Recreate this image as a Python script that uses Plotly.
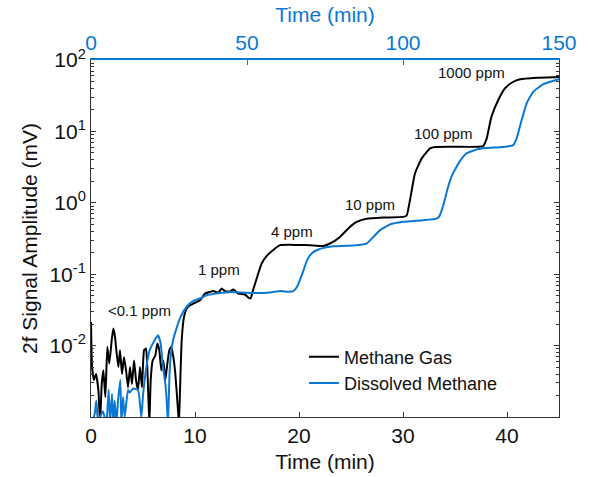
import plotly.graph_objects as go

# Methane gas signal, time on the bottom axis (min)
gas_time = [0.0, 0.1, 0.29, 0.48, 0.71, 0.87, 1.03, 1.19, 1.38, 1.57, 1.76, 1.99, 2.15, 2.31,
            2.47, 2.63, 2.79, 2.98, 3.17, 3.37, 3.56, 3.75, 3.94, 4.14, 4.33, 4.52, 4.71, 4.90,
            5.10, 5.29, 5.45, 5.61, 5.74, 5.93, 6.19, 6.38, 6.57, 6.76, 6.96, 7.15, 7.34, 7.53,
            7.72, 7.92, 8.11, 8.30, 8.46, 8.56, 8.72, 8.94, 9.20, 9.52, 9.84, 10.48, 10.96,
            11.44, 11.76, 12.24, 12.56, 12.88, 13.36, 13.68, 14.16, 14.8, 15.13, 15.35, 15.54,
            15.93, 16.41, 16.96, 17.5, 18.17, 19.1, 20.0, 21.06, 22.34, 22.98, 23.94, 24.9,
            25.55, 26.5, 28.1, 30.03, 30.35, 30.67, 31.15, 31.8, 32.6, 33.08, 34.8, 37.7,
            38.05, 38.5, 39.16, 39.8, 40.45, 41.25, 42.85, 45.0]
gas_signal = [0.0214, 0.0050, 0.0033, 0.0040, 0.0024, 0.0008, 0.0029, 0.0045, 0.0019, 0.0096,
              0.0056, 0.0119, 0.0173, 0.0132, 0.0077, 0.0050, 0.0086, 0.0040, 0.0069, 0.0045,
              0.0026, 0.0050, 0.0029, 0.0062, 0.0033, 0.0024, 0.0050, 0.0026, 0.0086, 0.0091,
              0.0036, 0.0008, 0.0033, 0.0062, 0.0073, 0.0107, 0.0086, 0.0045, 0.0062, 0.0033,
              0.0056, 0.0086, 0.0096, 0.0069, 0.0040, 0.0017, 0.0008, 0.0024, 0.0119, 0.0252,
              0.033, 0.0367, 0.0388, 0.0432, 0.0536, 0.0565, 0.058, 0.055, 0.063, 0.058, 0.057,
              0.061, 0.0536, 0.052, 0.047, 0.046, 0.057, 0.087, 0.141, 0.185, 0.217, 0.255,
              0.258, 0.256, 0.255, 0.249, 0.269, 0.333, 0.46, 0.54, 0.596, 0.62, 0.635, 0.66,
              1.09, 2.58, 4.19, 5.78, 6.05, 6.1, 6.22, 7.98, 16.0, 27.5, 40.0, 48.0, 53.6,
              56.5, 58.0]

# Dissolved methane signal, time on the top axis (min)
dissolved_time = [0.0, 1.17, 1.7, 2.23, 3.83, 4.9, 5.67, 6.1, 6.73, 7.17, 7.6, 8.13, 8.67, 9.4,
                  9.73, 10.27, 10.8, 11.87, 12.4, 13.47, 15.07, 16.13, 16.67, 17.73, 18.8,
                  20.4, 21.47, 22.33, 23.07, 23.6, 24.13, 24.67, 25.17, 25.67, 26.33, 27.33,
                  28.67, 30.67, 32.67, 35.0, 37.0, 40.67, 44.67, 50.0, 55.33, 58.0, 60.67,
                  63.33, 64.83, 66.0, 67.67, 69.33, 71.0, 72.67, 74.33, 77.67, 81.67, 85.17,
                  88.33, 90.5, 92.67, 95.83, 100.1, 106.5, 110.8, 111.67, 113.0, 114.33,
                  115.67, 117.0, 118.33, 120.33, 123.67, 126.67, 130.0, 133.33, 135.33,
                  136.43, 138.03, 139.63, 141.77, 145.0, 150.0]
dissolved_signal = [0.0008, 0.0011, 0.0017, 0.0009, 0.0012, 0.0008, 0.0024, 0.0008, 0.0021,
                    0.0008, 0.0017, 0.0008, 0.0017, 0.0033, 0.0008, 0.0019, 0.0010, 0.0024,
                    0.0022, 0.0025, 0.0024, 0.0010, 0.0020, 0.0050, 0.0086, 0.0119, 0.0140,
                    0.0107, 0.0050, 0.0035, 0.0021, 0.0008, 0.004, 0.008, 0.012, 0.017, 0.025,
                    0.035, 0.042, 0.046, 0.0507, 0.054, 0.0565, 0.055, 0.0547, 0.056, 0.058,
                    0.057, 0.058, 0.066, 0.10, 0.16, 0.20, 0.22, 0.232, 0.246, 0.25, 0.255,
                    0.269, 0.333, 0.414, 0.497, 0.541, 0.571, 0.602, 0.65, 0.95, 1.6, 2.4, 3.1,
                    3.9, 4.9, 5.6, 5.85, 5.97, 6.15, 6.43, 7.98, 14.4, 24.7, 36.0, 46.0, 54.0]

# Concentration labels: text, bottom-axis time, log10 of signal
step_labels = ["<0.1 ppm", "1 ppm", "4 ppm", "10 ppm", "100 ppm", "1000 ppm"]
label_time = [4.68, 12.34, 19.3, 26.83, 33.88, 36.6]
label_log = [-1.505, -0.934, -0.407, -0.019, 0.972, 1.828]

bottom_ticks = [0, 10, 20, 30, 40]
top_ticks = [0, 50, 100, 150]
y_tickvals = [0.01, 0.1, 1, 10, 100]
y_ticktext = ["10<sup>-2</sup>", "10<sup>-1</sup>", "10<sup>0</sup>", "10<sup>1</sup>", "10<sup>2</sup>"]
y_minor_ticks = [0.002, 0.003, 0.004, 0.005, 0.006, 0.007, 0.008, 0.009,
                 0.02, 0.03, 0.04, 0.05, 0.06, 0.07, 0.08, 0.09,
                 0.2, 0.3, 0.4, 0.5, 0.6, 0.7, 0.8, 0.9,
                 2, 3, 4, 5, 6, 7, 8, 9,
                 20, 30, 40, 50, 60, 70, 80, 90]

BLUE = "#0a78d2"
FONT = "Liberation Sans, Arial, sans-serif"

fig = go.Figure()
fig.add_trace(go.Scatter(x=gas_time, y=gas_signal, mode="lines", name="Methane Gas",
                         line=dict(color="black", width=2, shape="spline", smoothing=0.4),
                         xaxis="x", yaxis="y"))
fig.add_trace(go.Scatter(x=dissolved_time, y=dissolved_signal, mode="lines",
                         name="Dissolved Methane",
                         line=dict(color=BLUE, width=2, shape="spline", smoothing=0.4),
                         xaxis="x2", yaxis="y"))

for txt, tx, ty in zip(step_labels, label_time, label_log):
    fig.add_annotation(x=tx, y=ty, xref="x", yref="y", text=txt, showarrow=False,
                       font=dict(size=15, color="#111", family=FONT))

fig.update_layout(
    width=589, height=477,
    margin=dict(l=91, r=30, t=60, b=60),
    paper_bgcolor="white", plot_bgcolor="white",
    font=dict(family=FONT, color="#111"),
    showlegend=True,
    legend=dict(x=0.455, y=0.22, xanchor="left", yanchor="top",
                bgcolor="rgba(0,0,0,0)", font=dict(size=18, family=FONT),
                tracegroupgap=0),
    xaxis=dict(range=[0, 45], tickvals=bottom_ticks, ticks="inside", ticklen=5,
               tickcolor="#333", automargin=False,
               showline=True, linecolor="#333", linewidth=1, showgrid=False, zeroline=False,
               tickfont=dict(size=21, family=FONT, color="#111"),
               title=dict(text="Time (min)", font=dict(size=21, family=FONT, color="#111"),
                          standoff=8)),
    xaxis2=dict(range=[0, 150], tickvals=top_ticks, overlaying="x", side="top",
                ticks="inside", ticklen=5, tickcolor=BLUE, showline=True, linecolor=BLUE,
                linewidth=1.5, showgrid=False, zeroline=False, automargin=False,
                tickfont=dict(size=21, family=FONT, color=BLUE),
                title=dict(text="Time (min)", font=dict(size=21, family=FONT, color=BLUE),
                           standoff=2)),
    yaxis=dict(type="log", range=[-3, 2], tickvals=y_tickvals, ticktext=y_ticktext,
               ticks="inside", ticklen=5, tickcolor="#333", showline=True, linecolor="#333",
               linewidth=1, mirror="ticks", showgrid=False, zeroline=False, automargin=False,
               minor=dict(tickvals=y_minor_ticks, ticks="inside", ticklen=3,
                          tickcolor="#333", showgrid=False),
               tickfont=dict(size=21, family=FONT, color="#111"),
               title=dict(text="2f Signal Amplitude (mV)",
                          font=dict(size=21, family=FONT, color="#111"), standoff=6)),
)

fig.write_html("out.html")
